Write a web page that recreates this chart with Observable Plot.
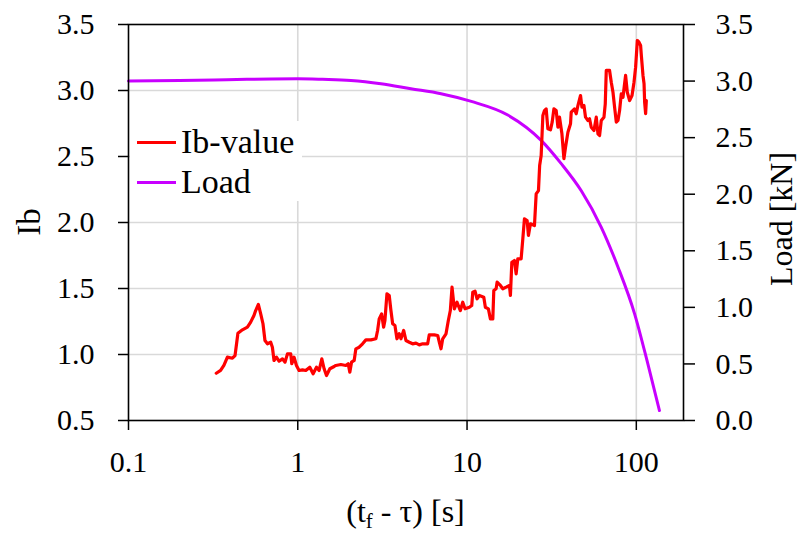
<!DOCTYPE html>
<html>
<head>
<meta charset="utf-8">
<script src="https://cdn.jsdelivr.net/npm/d3@7"></script>
<script src="https://cdn.jsdelivr.net/npm/@observablehq/plot@0.6"></script>
<style>
  html, body { margin: 0; padding: 0; background: #fff; }
  #chart { width: 802px; height: 533px; }
</style>
</head>
<body>
<div id="chart"></div>
<script>
// ---- data ----
const xTicks = [0.1, 1, 10, 100];
const xTickLabels = ["0.1", "1", "10", "100"];
const ibTicks = [0.5, 1.0, 1.5, 2.0, 2.5, 3.0, 3.5];
const loadTicks = [0.0, 0.5, 1.0, 1.5, 2.0, 2.5, 3.0, 3.5];

const ibT = [0.330,0.350,0.366,0.384,0.411,0.426,0.443,0.471,0.504,0.527,0.551,0.564,0.585,0.604,0.623,0.640,0.662,0.692,0.708,0.724,0.748,0.775,0.812,0.841,0.869,0.909,0.922,0.951,0.982,1.018,1.066,1.115,1.178,1.232,1.290,1.337,1.387,1.431,1.478,1.547,1.640,
1.678,1.797,1.923,1.985,2.030,2.078,2.154,2.204,2.305,2.414,2.526,2.704,2.894,2.962,3.027,3.128,3.215,3.273,3.363,3.470,3.551,3.635,3.750,3.853,3.976,4.070,4.222,4.356,4.556,4.771,4.991,5.222,5.469,5.853,5.982,6.406,6.709,6.857,7.018,7.182,7.512,7.752,7.966,8.152,8.412,8.727,9.128,
9.432,9.732,10.32,10.66,10.81,11.15,11.46,11.82,12.56,12.83,13.37,13.74,14.20,14.39,14.85,15.05,15.74,16.27,17.02,17.80,18.04,18.39,19.05,19.50,19.95,20.87,21.36,21.83,22.65,23.05,23.69,25.02,25.61,26.42,26.85,27.41,28.05,28.67,29.34,30.03,31.11,31.84,32.59,33.63,34.42,35.18,36.35,37.35,38.17,39.44,40.86,41.25,43.14,44.16,45.19,46.82,47.72,49.04,50.12,51.79,52.93,54.17,56.21,57.99,59.35,60.66,62.08,64.41,65.55,66.45,69.50,71.13,72.80,74.41,76.16,77.93,79.65,81.50,83.42,85.26,86.43,88.45,91.28,94.32,96.92,99.06,101.4,103.7,106.0,107.1,109.5,111.1,112.0,113.5,114.6];
const ibValue = [0.858,0.879,0.917,0.980,0.972,0.992,1.161,1.187,1.207,1.245,1.295,1.333,1.379,1.308,1.233,1.106,1.081,1.093,1.055,0.955,0.980,0.949,0.967,0.942,1.005,1.005,0.930,0.980,0.917,0.879,0.884,0.879,0.904,0.854,0.904,0.879,0.967,0.892,0.841,0.892,0.909,
0.917,0.924,0.917,0.930,0.866,0.942,0.955,1.043,1.055,1.081,1.111,1.111,1.119,1.182,1.270,1.308,1.207,1.258,1.460,1.447,1.333,1.233,1.220,1.119,1.157,1.119,1.182,1.106,1.093,1.081,1.086,1.073,1.081,1.081,1.149,1.149,1.144,1.093,1.043,1.119,1.157,1.258,1.333,1.510,1.346,1.396,1.333,
1.396,1.346,1.358,1.371,1.472,1.480,1.422,1.447,1.434,1.358,1.346,1.270,1.270,1.485,1.498,1.548,1.523,1.498,1.510,1.523,1.447,1.699,1.712,1.611,1.725,1.725,1.877,2.028,2.015,1.902,1.990,1.977,2.217,2.242,2.432,2.508,2.811,2.848,2.861,2.710,2.702,2.760,2.861,2.848,2.722,2.798,2.672,2.483,2.570,2.684,2.748,2.836,2.861,2.824,2.886,2.962,2.874,2.886,2.798,2.773,2.786,2.722,2.697,2.798,2.672,2.659,2.773,2.798,2.899,3.152,3.152,3.063,2.987,2.874,2.760,2.773,2.848,2.975,2.949,3.051,3.114,2.987,2.924,2.962,3.063,3.177,3.379,3.366,3.341,3.265,3.114,3.051,2.911,2.824,2.924];

const loadT = [0.1, 0.2, 0.32, 0.5, 0.7, 1, 1.4, 2.06, 3.1, 4.66, 7.02, 10.6, 17.4, 27.4, 36, 47.3, 62, 78, 97.7, 117, 137];
const loadKN = [3.00, 3.005, 3.01, 3.015, 3.018, 3.02, 3.015, 3.005, 2.976, 2.932, 2.888, 2.82, 2.70, 2.476, 2.27, 2.03, 1.71, 1.355, 0.943, 0.50, 0.088];

const seriesNames = ["Ib-value", "Load"];
const seriesColors = ["#ff0000", "#c800ff"];

// ---- mapping of the load (right) axis onto the Ib (left) axis ----
const ibDom = [0.5, 3.5], loadDom = [0, 3.5];
const toIb = (L) => ibDom[0] + (L - loadDom[0]) * (ibDom[1] - ibDom[0]) / (loadDom[1] - loadDom[0]);
const fromIb = (v) => loadDom[0] + (v - ibDom[0]) * (loadDom[1] - loadDom[0]) / (ibDom[1] - ibDom[0]);

const ibData = ibT.map((t, i) => ({t, v: ibValue[i]}));
const loadData = loadT.map((t, i) => ({t, v: toIb(loadKN[i])}));

const font = "'Liberation Serif', 'DejaVu Serif', serif";
const gridStyle = {stroke: "#d9d9d9", strokeOpacity: 1, strokeWidth: 1.6};

const chart = Plot.plot({
  width: 802,
  height: 533,
  marginLeft: 128,
  marginRight: 119,
  marginTop: 24,
  marginBottom: 113,
  style: {fontFamily: font, fontSize: "30px", color: "black", background: "white"},
  x: {type: "log", domain: [0.1, 190]},
  y: {domain: ibDom},
  marks: [
    Plot.gridX(xTicks.slice(1), gridStyle),
    Plot.gridY(ibTicks.slice(1, -1), gridStyle),
    Plot.axisX(xTicks, {tickFormat: (d) => xTickLabels[xTicks.indexOf(d)], tickSize: 10, tickPadding: 20, strokeWidth: 1.5, label: null, fontSize: 30}),
    Plot.axisY(ibTicks, {anchor: "left", tickFormat: (d) => d.toFixed(1), tickSize: 10, tickPadding: 24, strokeWidth: 1.5, label: null, fontSize: 30}),
    Plot.axisY(loadTicks.map(toIb), {anchor: "right", tickFormat: (d) => Math.abs(fromIb(d)).toFixed(1), tickSize: 11, tickPadding: 21, strokeWidth: 1.5, label: null, fontSize: 30}),
    Plot.line(loadData, {x: "t", y: "v", stroke: seriesColors[1], strokeWidth: 3, curve: "monotone-x"}),
    Plot.line(ibData, {x: "t", y: "v", stroke: seriesColors[0], strokeWidth: 3.2}),
    Plot.frame({stroke: "black", strokeWidth: 1.6})
  ]
});

document.getElementById("chart").appendChild(chart);

// ---- titles and legend ----
const svg = d3.select(chart);
const tx = svg.append("text")
  .attr("x", 405.5).attr("y", 522)
  .attr("text-anchor", "middle")
  .attr("font-family", font).attr("font-size", 32).attr("fill", "black");
tx.append("tspan").text("(t");
tx.append("tspan").attr("font-size", 21).attr("dy", 6).text("f");
tx.append("tspan").attr("dy", -6).text(" - τ) [s]");

svg.append("text")
  .attr("transform", "translate(40,222) rotate(-90)")
  .attr("text-anchor", "middle")
  .attr("font-family", font).attr("font-size", 33).attr("fill", "black")
  .text("Ib");

svg.append("text")
  .attr("transform", "translate(792,219) rotate(-90)")
  .attr("text-anchor", "middle")
  .attr("font-family", font).attr("font-size", 32).attr("fill", "black")
  .text("Load [kN]");

const lg = svg.append("g");
lg.append("rect").attr("x", 130).attr("y", 121).attr("width", 172).attr("height", 80).attr("fill", "white");
seriesNames.forEach((name, i) => {
  const y = 142.5 + i * 40;
  lg.append("line").attr("x1", 137).attr("x2", 176).attr("y1", y).attr("y2", y)
    .attr("stroke", seriesColors[i]).attr("stroke-width", 3);
  lg.append("text").attr("x", 181).attr("y", y + 10)
    .attr("text-anchor", "start")
    .attr("font-family", font).attr("font-size", 34).attr("fill", "black")
    .text(name);
});
</script>
</body>
</html>
